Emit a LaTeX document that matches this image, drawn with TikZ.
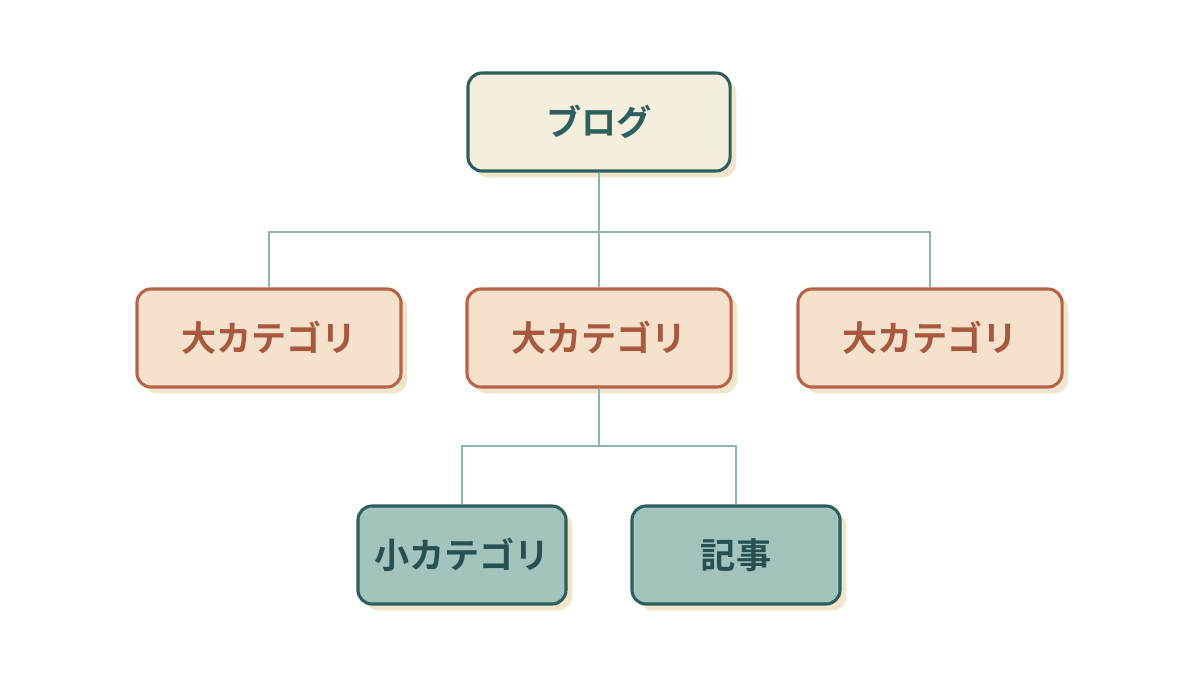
\documentclass[tikz,border=0pt]{standalone}
\usepackage{fontspec}
\setmainfont{Noto Sans CJK JP}[BoldFont={Noto Sans CJK JP Bold}]
\usetikzlibrary{positioning, shadows}
\definecolor{bgTeal}{RGB}{47, 94, 94}
\definecolor{bgRust}{RGB}{184, 98, 72}
\definecolor{bgRustText}{RGB}{168, 88, 62}
\definecolor{bgCream}{RGB}{243, 238, 221}
\definecolor{bgPeach}{RGB}{245, 225, 204}
\definecolor{bgSage}{RGB}{163, 196, 189}
\definecolor{bgLine}{RGB}{143, 181, 176}
\definecolor{bgShadow}{RGB}{240, 230, 205}
\tikzset{
    base/.style={
        font=\bfseries\fontsize{25}{29}\selectfont,
        align=center,
        rectangle,
        rounded corners=3.5mm,
        line width=2.2pt,
        drop shadow={shadow xshift=1.6mm, shadow yshift=-1.6mm, fill=bgShadow, opacity=1}
    },
    root/.style={base, draw=bgTeal, fill=bgCream, text=bgTeal,
        minimum width=6.55cm, minimum height=2.45cm},
    major/.style={base, draw=bgRust, fill=bgPeach, text=bgRustText,
        minimum width=6.6cm, minimum height=2.45cm},
    minor/.style={base, draw=bgTeal, fill=bgSage, text=bgTeal!85!black,
        minimum width=5.2cm, minimum height=2.45cm},
    link/.style={bgLine, line width=1.5pt}
}
\begin{document}
\begin{tikzpicture}[x=0.025cm, y=-0.025cm]
    \useasboundingbox (0,0) rectangle (1200,675);

    % Blog root
    \node[root] (blog) at (599,122) {ブログ};

    % Major categories
    \node[major] (majA) at (269,338) {大カテゴリ};
    \node[major] (majB) at (599,338) {大カテゴリ};
    \node[major] (majC) at (930,338) {大カテゴリ};

    % Minor category and article
    \node[minor] (minA) at (462,555) {小カテゴリ};
    \node[minor] (post) at (736,555) {記事};

    % Tree links
    \coordinate (forkTop) at (599,232);
    \coordinate (forkMid) at (599,446);
    \draw[link] (blog.south) -- (forkTop);
    \draw[link] (majA.north) |- (forkTop) -| (majC.north);
    \draw[link] (forkTop) -- (majB.north);
    \draw[link] (majB.south) -- (forkMid);
    \draw[link] (minA.north) |- (forkMid) -| (post.north);
\end{tikzpicture}
\end{document}
